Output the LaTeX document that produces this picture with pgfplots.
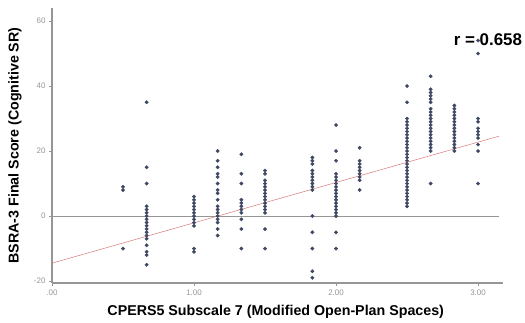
\documentclass[border=0pt]{standalone}
\usepackage{pgfplots}
\pgfplotsset{compat=1.18}
\usepackage{fontspec}
\setmainfont{Liberation Sans}
\definecolor{dotc}{RGB}{62,72,98}
\definecolor{spine}{RGB}{150,150,150}
\definecolor{ticklab}{RGB}{150,150,150}
\definecolor{regc}{RGB}{215,120,120}
\pgfplotstableread{
x y
0.5 9
0.5 8
0.5 -10
0.6667 35
0.6667 15
0.6667 10
0.6667 3
0.6667 2
0.6667 1
0.6667 0
0.6667 -1
0.6667 -2
0.6667 -3
0.6667 -4
0.6667 -5
0.6667 -6
0.6667 -7
0.6667 -9
0.6667 -11
0.6667 -12
0.6667 -15
1 6
1 5
1 4
1 3
1 2
1 1
1 0
1 -1
1 -2
1 -3
1 -10
1 -11
1.1667 20
1.1667 17
1.1667 15
1.1667 13
1.1667 12
1.1667 10
1.1667 8
1.1667 7
1.1667 5
1.1667 3
1.1667 2
1.1667 1
1.1667 0
1.1667 -1
1.1667 -2
1.1667 -4
1.1667 -6
1.3333 19
1.3333 13
1.3333 10
1.3333 5
1.3333 4
1.3333 3
1.3333 2
1.3333 1
1.3333 -1
1.3333 -4
1.3333 -10
1.5 14
1.5 13
1.5 11
1.5 10
1.5 9
1.5 8
1.5 7
1.5 6
1.5 5
1.5 4
1.5 3
1.5 2
1.5 1
1.5 -4
1.5 -10
1.8333 18
1.8333 17
1.8333 16
1.8333 14
1.8333 13
1.8333 12
1.8333 11
1.8333 10
1.8333 9
1.8333 8
1.8333 0
1.8333 -5
1.8333 -10
1.8333 -17
1.8333 -19
2 28
2 20
2 17
2 13
2 12
2 11
2 10
2 9
2 8
2 7
2 6
2 5
2 4
2 3
2 2
2 1
2 0
2 -5
2 -10
2.1667 21
2.1667 17
2.1667 16
2.1667 15
2.1667 14
2.1667 13
2.1667 12
2.1667 11
2.1667 8
2.5 40
2.5 35
2.5 30
2.5 29
2.5 28
2.5 27
2.5 26
2.5 25
2.5 24
2.5 23
2.5 22
2.5 21
2.5 20
2.5 19
2.5 18
2.5 17
2.5 16
2.5 15
2.5 14
2.5 13
2.5 12
2.5 11
2.5 10
2.5 9
2.5 8
2.5 7
2.5 6
2.5 5
2.5 4
2.5 3
2.6667 43
2.6667 39
2.6667 38
2.6667 37
2.6667 36
2.6667 35
2.6667 33
2.6667 32
2.6667 31
2.6667 30
2.6667 29
2.6667 28
2.6667 27
2.6667 26
2.6667 25
2.6667 24
2.6667 23
2.6667 22
2.6667 21
2.6667 20
2.6667 10
2.8333 34
2.8333 33
2.8333 32
2.8333 31
2.8333 30
2.8333 29
2.8333 28
2.8333 27
2.8333 26
2.8333 25
2.8333 24
2.8333 23
2.8333 22
2.8333 21
2.8333 20
3 54
3 50
3 30
3 29
3 27
3 26
3 25
3 24
3 22
3 20
3 10
}\scatterdata
\begin{document}
\begin{tikzpicture}[x=1bp,y=1bp]
\path[use as bounding box] (0,0) rectangle (525,322);
\begin{axis}[
  at={(52bp,39bp)}, anchor=south west,
  scale only axis, width=451bp, height=275bp,
  xmin=0, xmax=3.176, ymin=-20.6, ymax=64,
  axis lines*=left,
  axis line style={spine, line width=1.6pt},
  xtick={0,1,2,3}, xticklabels={.00,1.00,2.00,3.00},
  ytick={-20,0,20,40,60},
  tick style={spine, line width=0.6pt},
  tick align=outside, major tick length=3bp,
  ticklabel style={font=\fontsize{8}{9}\selectfont, text=ticklab},
  /pgf/number format/assume math mode=true,
  xlabel={\textbf{CPERS5 Subscale 7 (Modified Open-Plan Spaces)}},
  ylabel={\textbf{BSRA-3 Final Score (Cognitive SR)}},
  label style={font=\fontsize{14.3}{16}\selectfont},
  xlabel style={at={(axis description cs:0.496,-0.105)}, anchor=center},
  ylabel style={at={(axis description cs:-0.082,0.5)}, anchor=center},
  clip=false,
]
\addplot[spine, line width=0.8pt, forget plot] coordinates {(0,0) (3.15,0)};
\addplot[regc, line width=0.5pt] coordinates {(0,-14.5) (3.15,24.6)};
\addplot[only marks, mark=*, mark size=1.7bp, mark options={fill=dotc, draw=dotc}] table[x=x,y=y] {\scatterdata};
\node[font=\fontsize{17}{19}\selectfont\bfseries, anchor=center] at (axis cs:3.07,54.2) {r = 0.658};
\end{axis}
\end{tikzpicture}
\end{document}
